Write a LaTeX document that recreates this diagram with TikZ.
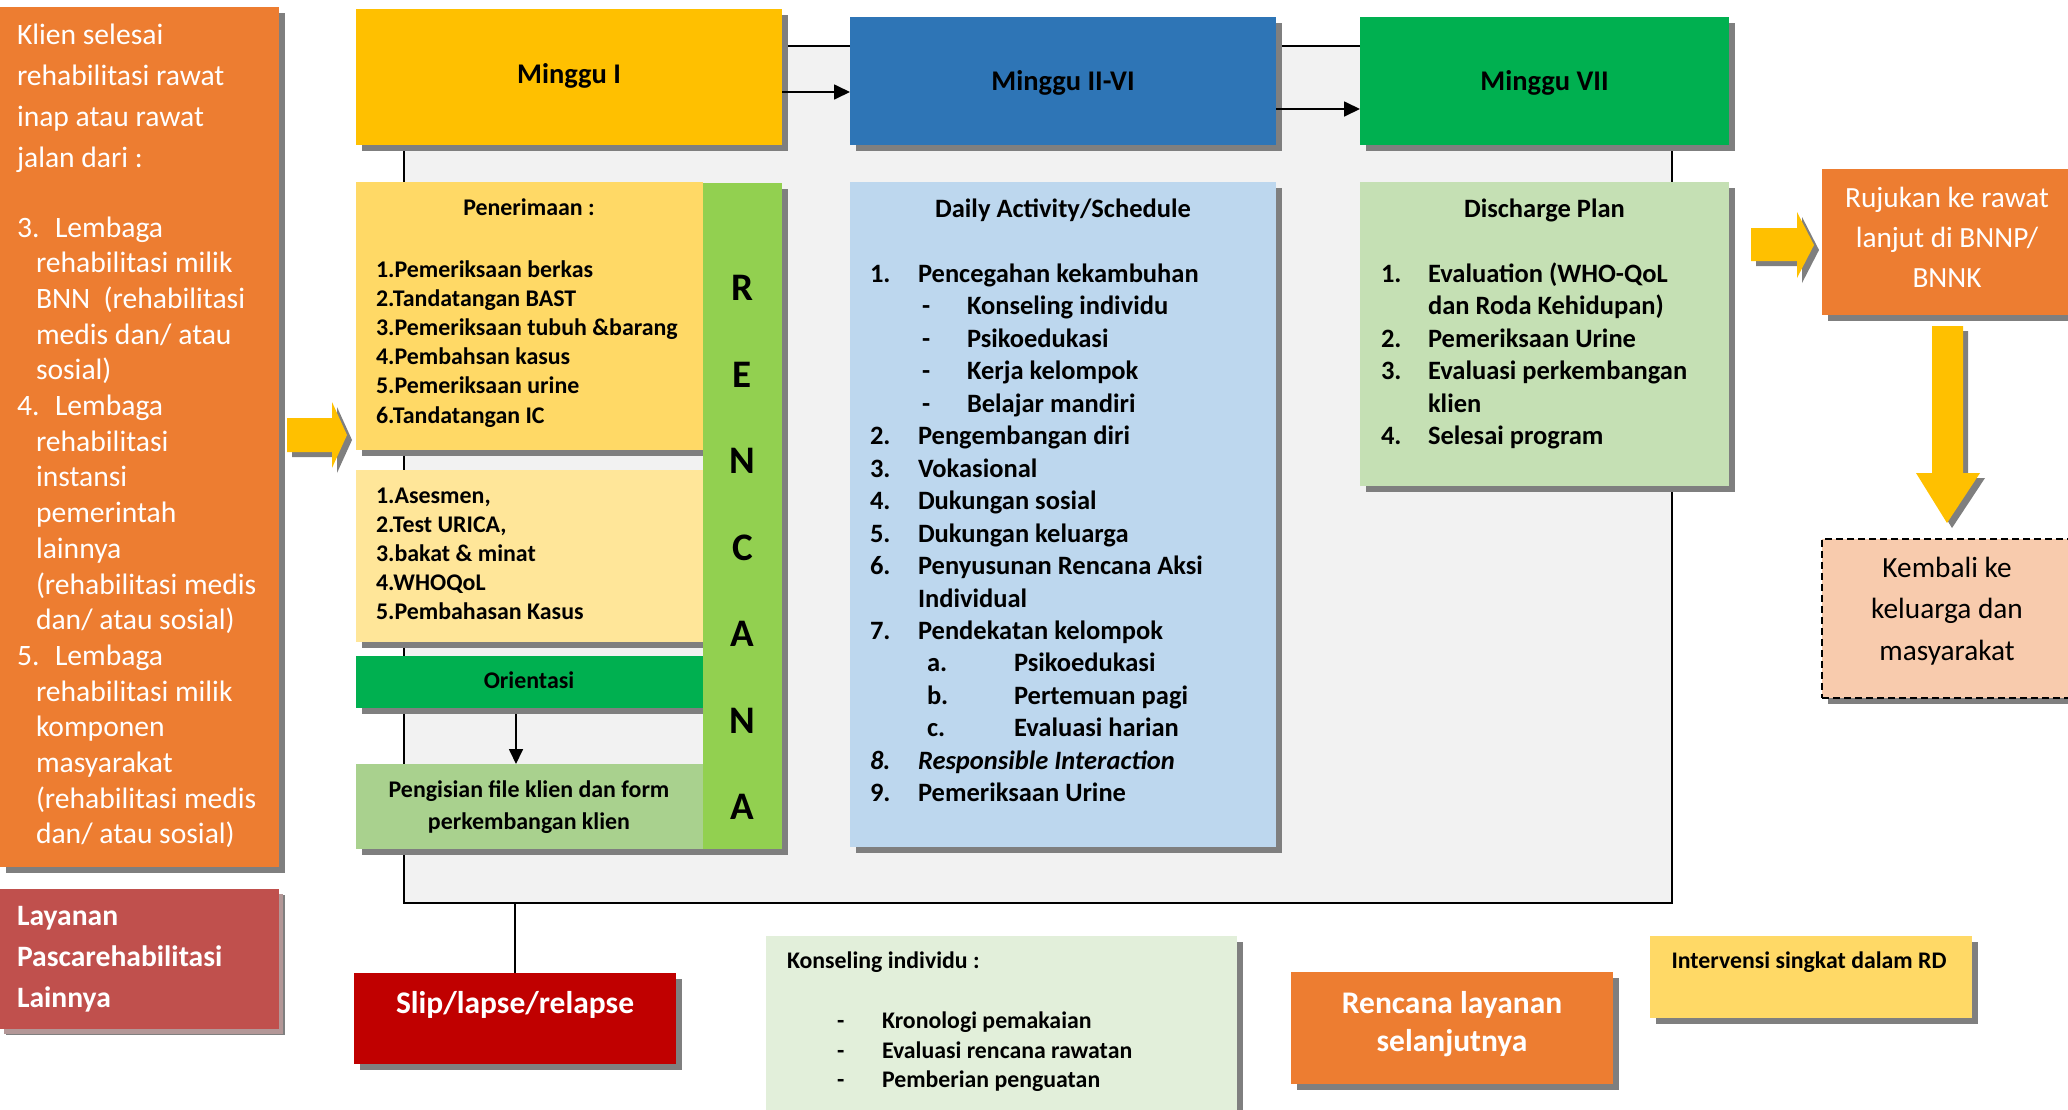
\documentclass[tikz,border=0pt]{standalone}
\usepackage{fontspec}
\setmainfont{Carlito}
\usetikzlibrary{shadows,arrows.meta}

\definecolor{cOrange}{HTML}{ED7D31}
\definecolor{cBrick}{HTML}{C0504D}
\definecolor{cGold}{HTML}{FFC000}
\definecolor{cBlue}{HTML}{2E75B6}
\definecolor{cGreen}{HTML}{00B050}
\definecolor{cYellow}{HTML}{FFD966}
\definecolor{cPaleYellow}{HTML}{FFE699}
\definecolor{cSage}{HTML}{A9D18E}
\definecolor{cLime}{HTML}{92D050}
\definecolor{cSky}{HTML}{BDD7EE}
\definecolor{cMint}{HTML}{C5E0B4}
\definecolor{cPeach}{HTML}{F8CBAD}
\definecolor{cRed}{HTML}{C00000}
\definecolor{cPaleGreen}{HTML}{E2EFDA}
\definecolor{cFrame}{HTML}{F2F2F2}
\definecolor{cShadow}{HTML}{7F7F7F}
\definecolor{cShadowRose}{HTML}{B39797}

\newcommand\fsz[1]{\fontsize{#1}{#1}\selectfont}

\tikzset{
  box/.style={anchor=north west, inner sep=0pt, outer sep=0pt, draw=none,
    drop shadow={shadow xshift=6pt, shadow yshift=-6pt, fill=cShadow, opacity=1}},
  txt/.style={inner sep=0pt, outer sep=0pt, anchor=base west},
  ctxt/.style={inner sep=0pt, outer sep=0pt, anchor=base},
  lefttxt/.style={txt, text=white, font=\fsz{29.6}},
  head/.style={ctxt, font=\fsz{28.5}\bfseries},
  item/.style={txt, font=\fsz{23.9}\bfseries},
  ditem/.style={txt, font=\fsz{26.5}\bfseries},
  kitem/.style={txt, font=\fsz{23.8}\bfseries},
  letter/.style={ctxt, font=\fsz{39}\bfseries},
  link/.style={draw=black, line width=1.7pt},
  arrowlink/.style={link, -{Triangle[length=16pt,width=15pt]}},
  blockarrow/.style={fill=cGold,
    drop shadow={shadow xshift=5pt, shadow yshift=-5pt, fill=cShadow, opacity=1}},
}

\begin{document}
\begin{tikzpicture}[x=1pt,y=-1pt]
\useasboundingbox (0,0) rectangle (2068,1109);
\clip (0,0) rectangle (2068,1109);

% shaded frame holding the weekly programme
\node[anchor=north west, inner sep=0pt, outer sep=0pt, fill=cFrame, draw=black,
      line width=1.6pt, minimum width=1268pt, minimum height=857pt] (frame) at (404,46) {};

% ---------- left column ----------
\node[box, fill=cOrange, minimum width=279pt, minimum height=860pt] (lbox) at (0,7) {};
\node[lefttxt] (l1) at (17,44) {Klien selesai};
\node[lefttxt] (l2) at (17,85) {rehabilitasi rawat};
\node[lefttxt] (l3) at (17,126) {inap atau rawat};
\node[lefttxt] (l4) at (17,167) {jalan dari :};
\node[lefttxt] (l5n) at (17,237) {3.};
\node[lefttxt] (l5) at (55,237) {Lembaga};
\node[lefttxt] (l6) at (36,272.7) {rehabilitasi milik};
\node[lefttxt] (l7) at (36,308.4) {BNN\ \ (rehabilitasi};
\node[lefttxt] (l8) at (36,344.1) {medis dan/ atau};
\node[lefttxt] (l9) at (36,379.8) {sosial)};
\node[lefttxt] (l10n) at (17,415.5) {4.};
\node[lefttxt] (l10) at (55,415.5) {Lembaga};
\node[lefttxt] (l11) at (36,451.2) {rehabilitasi};
\node[lefttxt] (l12) at (36,486.9) {instansi};
\node[lefttxt] (l13) at (36,522.6) {pemerintah};
\node[lefttxt] (l14) at (36,558.3) {lainnya};
\node[lefttxt] (l15) at (36,594) {(rehabilitasi medis};
\node[lefttxt] (l16) at (36,629.7) {dan/ atau sosial)};
\node[lefttxt] (l17n) at (17,665.4) {5.};
\node[lefttxt] (l17) at (55,665.4) {Lembaga};
\node[lefttxt] (l18) at (36,701.1) {rehabilitasi milik};
\node[lefttxt] (l19) at (36,736.8) {komponen};
\node[lefttxt] (l20) at (36,772.5) {masyarakat};
\node[lefttxt] (l21) at (36,808.2) {(rehabilitasi medis};
\node[lefttxt] (l22) at (36,843.9) {dan/ atau sosial)};

\node[box, fill=cBrick, minimum width=279pt, minimum height=140pt,
      drop shadow={shadow xshift=4pt, shadow yshift=-5pt, fill=cShadowRose, opacity=1}] (lainnya) at (0,889) {};
\node[lefttxt, font=\fsz{29.6}\bfseries] (p1) at (17,925) {Layanan};
\node[lefttxt, font=\fsz{29.6}\bfseries] (p2) at (17,966) {Pascarehabilitasi};
\node[lefttxt, font=\fsz{29.6}\bfseries] (p3) at (17,1007) {Lainnya};

% entry arrow
\path[blockarrow] (287,418) -- (332,418) -- (332,402) -- (347,435) -- (332,468)
  -- (332,452) -- (287,452) -- cycle;

% ---------- week headers ----------
\node[box, fill=cGold, minimum width=426pt, minimum height=136pt] (m1) at (356,9) {};
\node[head] (m1t) at (569,83) {Minggu I};
\node[box, fill=cBlue, minimum width=426pt, minimum height=128pt] (m2) at (850,17) {};
\node[head] (m2t) at (1063,90) {Minggu II-VI};
\node[box, fill=cGreen, minimum width=369pt, minimum height=128pt] (m7) at (1360,17) {};
\node[head] (m7t) at (1544.5,90) {Minggu VII};

\coordinate (ya) at (0,92);
\coordinate (yb) at (0,109);
\draw[arrowlink] (m1.east |- ya) -- (m2.west |- ya);
\draw[arrowlink] (m2.east |- yb) -- (m7.west |- yb);

% ---------- week I ----------
\node[box, fill=cYellow, minimum width=346.5pt, minimum height=268pt] (pener) at (356,182) {};
\node[ctxt, font=\fsz{23.9}\bfseries] (penert) at (529,215) {Penerimaan :};
\node[item] (pe1) at (376,277) {1.Pemeriksaan berkas};
\node[item] (pe2) at (376,306.2) {2.Tandatangan BAST};
\node[item] (pe3) at (376,335.4) {3.Pemeriksaan tubuh \&barang};
\node[item] (pe4) at (376,364.6) {4.Pembahsan kasus};
\node[item] (pe5) at (376,393.8) {5.Pemeriksaan urine};
\node[item] (pe6) at (376,423) {6.Tandatangan IC};

\node[box, fill=cPaleYellow, minimum width=346.5pt, minimum height=172pt] (ases) at (356,470) {};
\node[item] (as1) at (376,503) {1.Asesmen,};
\node[item] (as2) at (376,532.2) {2.Test URICA,};
\node[item] (as3) at (376,561.4) {3.bakat \& minat};
\node[item] (as4) at (376,590.6) {4.WHOQoL};
\node[item] (as5) at (376,619.8) {5.Pembahasan Kasus};

\node[box, fill=cGreen, minimum width=346.5pt, minimum height=52pt] (orient) at (356,656) {};
\node[ctxt, font=\fsz{23.9}\bfseries] (orientt) at (529,688) {Orientasi};

\node[box, fill=cSage, minimum width=346.5pt, minimum height=85pt] (isi) at (356,764) {};
\node[ctxt, font=\fsz{23.9}\bfseries] (isi1) at (529,797) {Pengisian file klien dan form};
\node[ctxt, font=\fsz{23.9}\bfseries] (isi2) at (529,829) {perkembangan klien};

\coordinate (xo) at (516,0);
\draw[link, -{Triangle[length=15pt,width=14pt]}] ([yshift=-6pt]orient.south -| xo) -- (isi.north -| xo);

\node[box, fill=cLime, minimum width=79.5pt, minimum height=666pt] (rencana) at (702.5,183) {};
\node[letter] (r1) at (742.5,300.5) {R};
\node[letter] (r2) at (742.5,387) {E};
\node[letter] (r3) at (742.5,473.5) {N};
\node[letter] (r4) at (742.5,560) {C};
\node[letter] (r5) at (742.5,646.5) {A};
\node[letter] (r6) at (742.5,733) {N};
\node[letter] (r7) at (742.5,819.5) {A};

% ---------- weeks II-VI ----------
\node[box, fill=cSky, minimum width=426pt, minimum height=665pt] (daily) at (850,182) {};
\node[ctxt, font=\fsz{26.5}\bfseries] (dailyt) at (1063,217) {Daily Activity/Schedule};
\node[ditem] (d1n) at (870,282.5) {1.};
\node[ditem] (d1) at (918,282.5) {Pencegahan kekambuhan};
\node[ditem] (d2n) at (922,314.95) {-};
\node[ditem] (d2) at (967,314.95) {Konseling individu};
\node[ditem] (d3n) at (922,347.4) {-};
\node[ditem] (d3) at (967,347.4) {Psikoedukasi};
\node[ditem] (d4n) at (922,379.85) {-};
\node[ditem] (d4) at (967,379.85) {Kerja kelompok};
\node[ditem] (d5n) at (922,412.3) {-};
\node[ditem] (d5) at (967,412.3) {Belajar mandiri};
\node[ditem] (d6n) at (870,444.75) {2.};
\node[ditem] (d6) at (918,444.75) {Pengembangan diri};
\node[ditem] (d7n) at (870,477.2) {3.};
\node[ditem] (d7) at (918,477.2) {Vokasional};
\node[ditem] (d8n) at (870,509.65) {4.};
\node[ditem] (d8) at (918,509.65) {Dukungan sosial};
\node[ditem] (d9n) at (870,542.1) {5.};
\node[ditem] (d9) at (918,542.1) {Dukungan keluarga};
\node[ditem] (d10n) at (870,574.55) {6.};
\node[ditem] (d10) at (918,574.55) {Penyusunan Rencana Aksi};
\node[ditem] (d11) at (918,607) {Individual};
\node[ditem] (d12n) at (870,639.45) {7.};
\node[ditem] (d12) at (918,639.45) {Pendekatan kelompok};
\node[ditem] (d13n) at (927,671.9) {a.};
\node[ditem] (d13) at (1014,671.9) {Psikoedukasi};
\node[ditem] (d14n) at (927,704.35) {b.};
\node[ditem] (d14) at (1014,704.35) {Pertemuan pagi};
\node[ditem] (d15n) at (927,736.8) {c.};
\node[ditem] (d15) at (1014,736.8) {Evaluasi harian};
\node[ditem, font=\fsz{26.5}\bfseries\itshape] (d16n) at (870,769.25) {8.};
\node[ditem, font=\fsz{26.5}\bfseries\itshape] (d16) at (918,769.25) {Responsible Interaction};
\node[ditem] (d17n) at (870,801.7) {9.};
\node[ditem] (d17) at (918,801.7) {Pemeriksaan Urine};

% ---------- week VII ----------
\node[box, fill=cMint, minimum width=369pt, minimum height=304pt] (disch) at (1360,182) {};
\node[ctxt, font=\fsz{26.5}\bfseries] (discht) at (1544.5,217) {Discharge Plan};
\node[ditem] (e1n) at (1381,282.5) {1.};
\node[ditem] (e1) at (1428,282.5) {Evaluation (WHO-QoL};
\node[ditem] (e2) at (1428,314.95) {dan Roda Kehidupan)};
\node[ditem] (e3n) at (1381,347.4) {2.};
\node[ditem] (e3) at (1428,347.4) {Pemeriksaan Urine};
\node[ditem] (e4n) at (1381,379.85) {3.};
\node[ditem] (e4) at (1428,379.85) {Evaluasi perkembangan};
\node[ditem] (e5) at (1428,412.3) {klien};
\node[ditem] (e6n) at (1381,444.75) {4.};
\node[ditem] (e6) at (1428,444.75) {Selesai program};

% ---------- after the programme ----------
\path[blockarrow] (1751,228) -- (1797,228) -- (1797,212) -- (1814,245) -- (1797,278)
  -- (1797,261) -- (1751,261) -- cycle;
\node[box, fill=cOrange, minimum width=250pt, minimum height=146pt] (rujuk) at (1822,169) {};
\node[ctxt, text=white, font=\fsz{29.3}] (rj1) at (1947,207) {Rujukan ke rawat};
\node[ctxt, text=white, font=\fsz{29.3}] (rj2) at (1947,247) {lanjut di BNNP/};
\node[ctxt, text=white, font=\fsz{29.3}] (rj3) at (1947,287) {BNNK};

\path[blockarrow] (1932,326) -- (1963,326) -- (1963,473) -- (1980,473) -- (1947,523)
  -- (1916,473) -- (1932,473) -- cycle;
\node[box, fill=cPeach, draw=black, line width=1.5pt, dash pattern=on 7pt off 4pt,
      minimum width=250pt, minimum height=159pt] (kembali) at (1822,539) {};
\node[ctxt, font=\fsz{29.3}] (kb1) at (1947,577) {Kembali ke};
\node[ctxt, font=\fsz{29.3}] (kb2) at (1947,618.5) {keluarga dan};
\node[ctxt, font=\fsz{29.3}] (kb3) at (1947,660) {masyarakat};

% ---------- bottom row ----------
\node[box, fill=cRed, minimum width=322pt, minimum height=91pt] (slip) at (354,973) {};
\node[ctxt, text=white, font=\fsz{31.5}\bfseries] (slipt) at (515,1013) {Slip/lapse/relapse};
\draw[line width=1.2pt] (slip.north |- frame.south) -- (slip.north);

\node[box, fill=cPaleGreen, minimum width=471pt, minimum height=194pt] (kons) at (766,936) {};
\node[kitem] (kt) at (787,968) {Konseling individu :};
\node[kitem] (k1n) at (837,1028) {-};
\node[kitem] (k1) at (882,1028) {Kronologi pemakaian};
\node[kitem] (k2n) at (837,1058) {-};
\node[kitem] (k2) at (882,1058) {Evaluasi rencana rawatan};
\node[kitem] (k3n) at (837,1087) {-};
\node[kitem] (k3) at (882,1087) {Pemberian penguatan};

\node[box, fill=cOrange, minimum width=322pt, minimum height=112pt] (rlay) at (1291,972) {};
\node[ctxt, text=white, font=\fsz{31.5}\bfseries] (rl1) at (1452,1013) {Rencana layanan};
\node[ctxt, text=white, font=\fsz{31.5}\bfseries] (rl2) at (1452,1051) {selanjutnya};

\node[box, fill=cYellow, minimum width=322pt, minimum height=82pt] (interv) at (1650,936) {};
\node[ctxt, font=\fsz{23.8}\bfseries] (intervt) at (1809,968) {Intervensi singkat dalam RD};
\end{tikzpicture}
\end{document}
